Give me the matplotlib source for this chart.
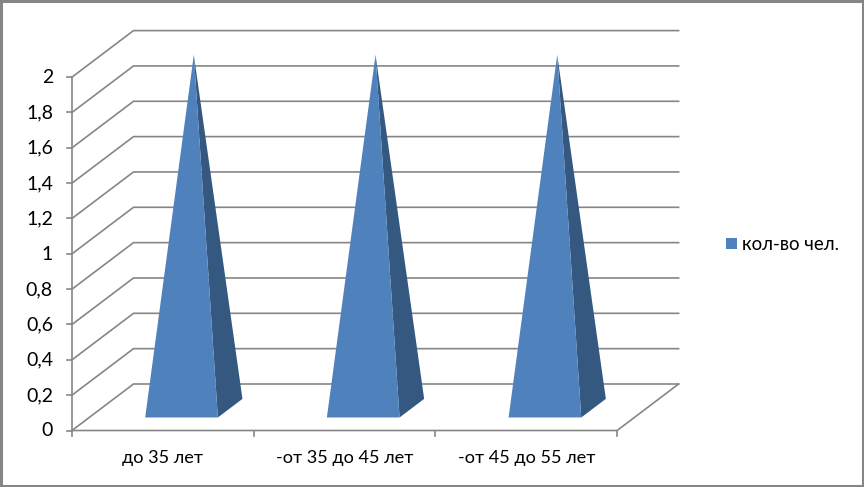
"""3D pyramid column chart drawn by hand with a small oblique projection."""
import matplotlib
matplotlib.use("Agg")
import matplotlib.pyplot as plt
from matplotlib.patches import Polygon, Rectangle

categories = ["до 35 лет", "-от 35 до 45 лет", "-от 45 до 55 лет"]
values = [2, 2, 2]
y_ticks = [0, 0.2, 0.4, 0.6, 0.8, 1, 1.2, 1.4, 1.6, 1.8, 2]
y_labels = ["0", "0,2", "0,4", "0,6", "0,8", "1", "1,2", "1,4", "1,6", "1,8", "2"]
series_name = "кол-во чел."

# projection, pixels of the reference
X0, Y0 = 72.0, 430.5
CAT_W = 181.7
PX_PER_UNIT = 176.7
DX, DY = 61.5, -46.5
BAR_W = 0.4
DEPTH_A, DEPTH_B = 0.28, 0.68

GRID = "#868686"
FRONT = "#4f81bd"
SIDE = "#34587f"

plt.rcParams["font.family"] = ["Lato", "DejaVu Sans"]


def project(cat, val, depth=0.0):
    return X0 + cat * CAT_W + depth * DX, Y0 - val * PX_PER_UNIT + depth * DY


fig = plt.figure(figsize=(8.64, 4.87), dpi=100)
ax = fig.add_axes([0, 0, 1, 1])
ax.set_xlim(0, 864)
ax.set_ylim(487, 0)
ax.axis("off")

ax.add_patch(Rectangle((1, 1), 861.5, 484.5, fc="white", ec=GRID, lw=2.2, zorder=0))

n = len(categories)
# walls
for t, lab in zip(y_ticks, y_labels):
    pts = [project(0, t), project(0, t, 1), project(n, t, 1)]
    ax.plot(*zip(*pts), color=GRID, lw=1.2, solid_joinstyle="miter", zorder=1)
    tick = project(0, t)
    ax.plot([tick[0] - 5.5, tick[0]], [tick[1], tick[1]], color=GRID, lw=1.2, zorder=1)
    ax.text(53, tick[1] + 0.5, lab, ha="right", va="center", fontsize=14, color="black")

# axes and floor
ax.plot(*zip(project(0, 0), project(0, max(y_ticks))), color=GRID, lw=1.2, zorder=1)
ax.plot(*zip(project(0, 0), project(n, 0), project(n, 0, 1)), color=GRID, lw=1.2, zorder=1)
for i in range(n + 1):
    x, y = project(i, 0)
    ax.plot([x, x], [y, y + 5.5], color=GRID, lw=1.2, zorder=1)

for i, (cat, val) in enumerate(zip(categories, values)):
    left = i + (1 - BAR_W) / 2 + 0.008
    right = left + BAR_W
    apex = project((left + right) / 2, val, (DEPTH_A + DEPTH_B) / 2)
    ax.add_patch(Polygon([project(right, 0, DEPTH_A), project(right, 0, DEPTH_B), apex],
                         fc=SIDE, ec="none", zorder=3))
    ax.add_patch(Polygon([project(left, 0, DEPTH_A), project(right, 0, DEPTH_A), apex],
                         fc=FRONT, ec="none", zorder=3))
    ax.text(project(i + 0.5, 0)[0], 458, cat, ha="center", va="center", fontsize=13.1, color="black")

# legend
ax.add_patch(Rectangle((726, 238), 11, 11, fc=FRONT, ec="none"))
ax.text(742, 244, series_name, ha="left", va="center", fontsize=13.4, color="black")

fig.savefig("out.png", dpi=100)
